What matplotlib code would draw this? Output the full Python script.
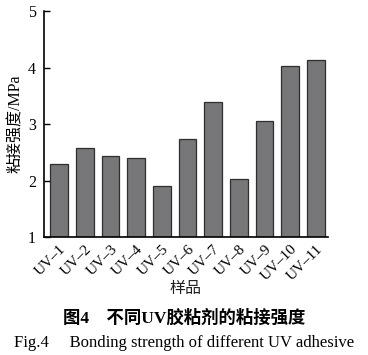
import matplotlib
matplotlib.use('Agg')
import matplotlib.pyplot as plt
import numpy as np

## Data
samples = ['UV–1', 'UV–2', 'UV–3', 'UV–4', 'UV–5', 'UV–6',
           'UV–7', 'UV–8', 'UV–9', 'UV–10', 'UV–11']
strength = [2.30, 2.57, 2.43, 2.40, 1.90, 2.73, 3.39, 2.02, 3.05, 4.03, 4.13]

plt.rcParams['font.family'] = ['Liberation Serif', 'Noto Sans CJK SC']
plt.rcParams['axes.linewidth'] = 1.2

fig = plt.figure(figsize=(3.68, 3.55), dpi=100)
ax = fig.add_axes([0.12, 0.332, 0.77, 0.637])

x = np.arange(len(samples))
ax.bar(x, strength, width=0.69, bottom=0, color='#77777a',
       edgecolor='#2e2e2e', linewidth=0.9, zorder=2)

ax.set_ylim(1, 5)
ax.set_xlim(-0.59, 10.45)
ax.set_yticks([1, 2, 3, 4, 5])
ax.tick_params(axis='y', direction='in', length=4, width=1, labelsize=11.5, pad=6)
ax.set_xticks(x)
ax.set_xticklabels(samples, rotation=45, ha='right', rotation_mode='anchor', fontsize=11)
ax.tick_params(axis='x', length=0, pad=4)
ax.spines['top'].set_visible(False)
ax.spines['right'].set_visible(False)

ax.set_ylabel('粘接强度/MPa', fontsize=11.5, labelpad=3)

fig.text(0.503, 0.185, '样品', ha='center', va='center', fontsize=11.5,
         color='#222222')
fig.text(0.5, 0.103, '图4\u2003不同UV胶粘剂的粘接强度', ha='center', va='center',
         fontsize=12.5, fontweight='bold')
fig.text(0.5, 0.033, 'Fig.4\u2003 Bonding strength of different UV adhesive',
         ha='center', va='center', fontsize=12)

plt.savefig('out.png', dpi=100)
plt.close()
